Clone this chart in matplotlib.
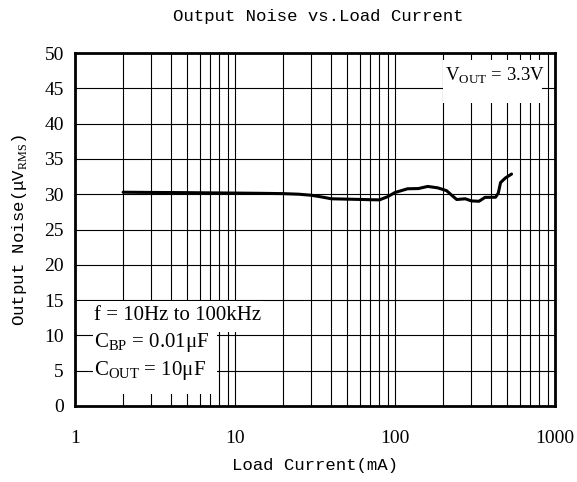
import matplotlib
matplotlib.use('Agg')
import matplotlib.pyplot as plt
from matplotlib.patches import Rectangle
from matplotlib.ticker import LogLocator, FixedLocator, NullFormatter

plt.rcParams['mathtext.fontset'] = 'custom'
plt.rcParams['mathtext.rm'] = 'Liberation Serif'

# load current (mA) and output noise (uVrms)
current = [2, 3, 5, 7, 10, 15, 20, 25, 30, 35, 40, 55, 70, 80, 90, 100,
           120, 140, 160, 185, 210, 225, 243, 275, 300, 335, 365, 425,
           442, 457, 490, 535]
noise = [30.28, 30.25, 30.22, 30.19, 30.16, 30.12, 30.08, 30.0, 29.85,
         29.6, 29.35, 29.28, 29.22, 29.2, 29.65, 30.24, 30.77, 30.8, 31.1,
         30.9, 30.5, 29.9, 29.25, 29.35, 29.05, 29.0, 29.55, 29.57, 30.15,
         31.65, 32.3, 32.85]

x_ticks = [1, 10, 100, 1000]
x_labels = ['1', '10', '100', '1000']
y_ticks = list(range(0, 55, 5))

serif = 'Liberation Serif'
mono = 'Liberation Mono'

fig = plt.figure(figsize=(5.77, 4.82), dpi=100)
ax = fig.add_axes([75 / 577, 76 / 482, 480 / 577, 353 / 482])

ax.plot(current, noise, color='black', linewidth=2.2, zorder=4,
        solid_capstyle='round', solid_joinstyle='round')

ax.set_xscale('log')
ax.set_xlim(1, 1000)
ax.set_ylim(0, 50)
ax.xaxis.set_major_locator(FixedLocator(x_ticks))
ax.set_xticklabels(x_labels, fontfamily=serif, fontsize=14)
ax.xaxis.set_minor_locator(LogLocator(base=10, subs=range(2, 10)))
ax.xaxis.set_minor_formatter(NullFormatter())
ax.set_yticks(y_ticks)
ax.set_yticklabels([str(v) for v in y_ticks], fontfamily=serif, fontsize=14)
ax.tick_params(which='both', length=0)
ax.tick_params(axis='x', pad=17)
ax.tick_params(axis='y', pad=8)

ax.grid(which='both', axis='x', color='black', linewidth=0.8, zorder=1)
ax.grid(which='major', axis='y', color='black', linewidth=0.8, zorder=1)
ax.set_axisbelow(True)
for s in ax.spines.values():
    s.set_linewidth(2)
    s.set_zorder(5)

# white backgrounds behind the notes
for x0, y0, w, h in [(0.0, 0.21, 0.392, 0.087),
                     (0.0375, 0.034, 0.259, 0.176),
                     (0.767, 0.858, 0.206, 0.122)]:
    ax.add_patch(Rectangle((x0, y0), w, h, transform=ax.transAxes,
                           facecolor='white', edgecolor='none', zorder=2))

ax.text(0.04, 0.255, 'f = 10Hz to 100kHz', transform=ax.transAxes,
        fontfamily=serif, fontsize=15, va='center', zorder=3)
ax.text(0.04, 0.18, r'C$_{\rm BP}$ = 0.01μF', transform=ax.transAxes,
        fontfamily=serif, fontsize=15, va='center', zorder=3)
ax.text(0.04, 0.10, r'C$_{\rm OUT}$ = 10μF', transform=ax.transAxes,
        fontfamily=serif, fontsize=15, va='center', zorder=3)
ax.text(0.77, 0.935, r'V$_{\rm OUT}$ = 3.3V', transform=ax.transAxes,
        fontfamily=serif, fontsize=13.5, va='center', zorder=3)

fig.text(318 / 577, 1 - 17 / 482, 'Output Noise vs.Load Current',
         ha='center', va='center', fontfamily=mono, fontsize=12.5)
ax.set_xlabel('Load Current(mA)', fontfamily=mono, fontsize=12.5, labelpad=8)
ax.set_ylabel(r'Output Noise(μV$_{\rm RMS}$)', fontfamily=mono, fontsize=12.5,
              labelpad=11)

fig.savefig('out.png', dpi=100)
